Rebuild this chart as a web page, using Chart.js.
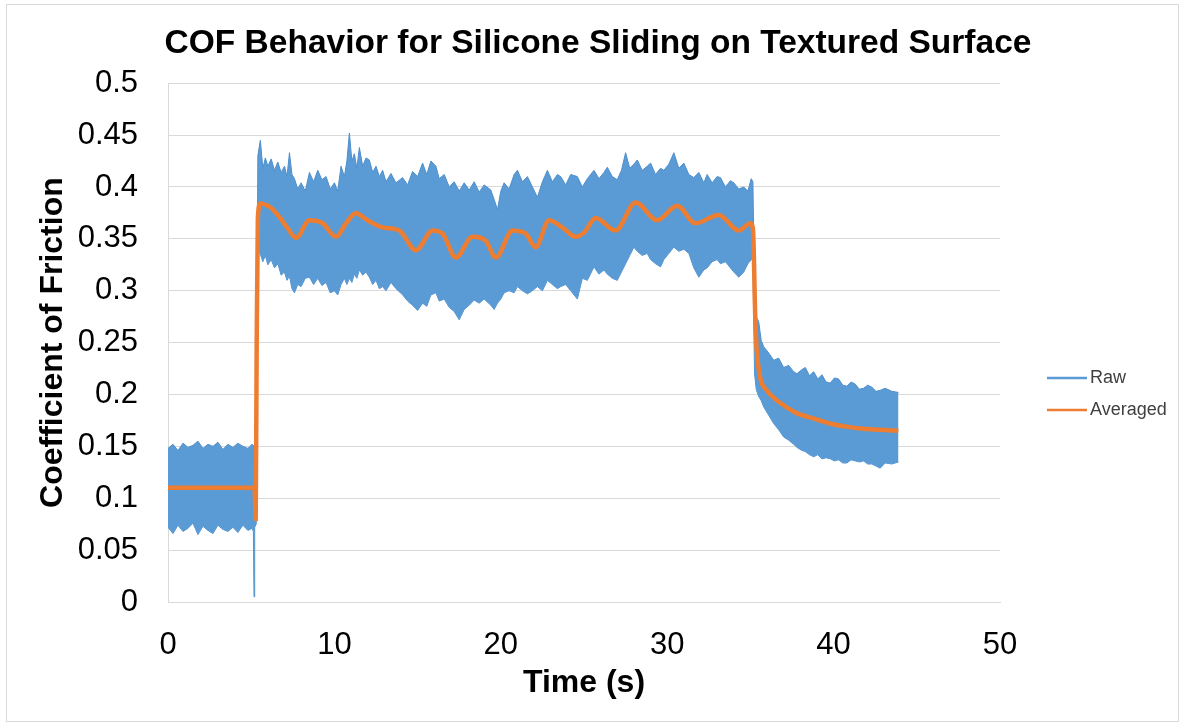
<!DOCTYPE html>
<html>
<head>
<meta charset="utf-8">
<title>COF Behavior for Silicone Sliding on Textured Surface</title>
<script src="https://cdn.jsdelivr.net/npm/chart.js@4.4.1/dist/chart.umd.min.js"></script>
<style>
    html, body { margin: 0; padding: 0; background: #ffffff; }
    #wrap { width: 1182px; height: 723px; }
</style>
</head>
<body>
<div id="wrap"><canvas id="cof-chart" width="1182" height="723"></canvas></div>
<script>
// raw signal, kept as its upper and lower envelope (time in s, COF)
var rawTime = [
    // before contact
    0, 0.3, 0.6, 0.9, 1.2, 1.5, 1.8, 2.1, 2.4, 2.7,
    3.0, 3.3, 3.6, 3.9, 4.2, 4.5, 4.8, 5.05, 5.13, 5.17,
    5.21, 5.3,
    // sliding on texture
    5.4, 5.55, 5.7, 5.85, 6.0, 6.2, 6.4, 6.6, 6.8, 7.0,
    7.15, 7.3, 7.45, 7.6, 7.8, 8.0, 8.25, 8.5, 8.75, 9.0,
    9.25, 9.5, 9.75, 10.0, 10.2, 10.4, 10.6, 10.75, 10.9, 11.05,
    11.2, 11.35, 11.5, 11.7, 11.9, 12.1, 12.3, 12.5, 12.7, 12.9,
    13.1, 13.4, 13.7, 14.1, 14.4, 14.7, 15.0, 15.3, 15.55, 15.8,
    16.1, 16.3, 16.6, 16.9, 17.2, 17.5, 17.8, 18.1, 18.4, 18.7,
    19.0, 19.4, 19.6, 19.8, 20.0, 20.2, 20.5, 20.8, 21.0, 21.3,
    21.6, 21.9, 22.2, 22.5, 22.8, 23.1, 23.4, 23.6, 23.9, 24.2,
    24.6, 24.9, 25.2, 25.6, 25.9, 26.2, 26.4, 26.7, 27.0, 27.25,
    27.5, 27.75, 28.0, 28.2, 28.5, 28.8, 29.0, 29.3, 29.6, 29.8,
    30.1, 30.4, 30.7, 31.0, 31.3, 31.6, 31.9, 32.2, 32.4, 32.7,
    33.0, 33.2, 33.5, 33.8, 34.0, 34.3, 34.6, 34.85, 35.05, 35.15,
    // after the texture
    35.25, 35.35, 35.5, 35.65, 35.8, 36.1, 36.4, 36.7, 37.0, 37.3,
    37.6, 37.8, 38.1, 38.3, 38.55, 38.8, 39.05, 39.3, 39.55, 39.8,
    40.05, 40.3, 40.55, 40.8, 41.05, 41.3, 41.55, 41.8, 42.05, 42.3,
    42.55, 42.8, 43.1, 43.5, 43.9
];
var rawHigh = [
    0.148, 0.152, 0.146, 0.153, 0.149, 0.151, 0.155, 0.148, 0.152, 0.150,
    0.154, 0.147, 0.152, 0.149, 0.153, 0.150, 0.148, 0.152, 0.151, 0.150,
    0.151, 0.155,

    0.430, 0.445, 0.418, 0.428, 0.420, 0.427, 0.416, 0.424, 0.414, 0.420,
    0.410, 0.433, 0.412, 0.408, 0.398, 0.404, 0.396, 0.414, 0.405, 0.416,
    0.407, 0.410, 0.398, 0.404, 0.396, 0.420, 0.410, 0.425, 0.452, 0.425,
    0.432, 0.418, 0.438, 0.420, 0.428, 0.426, 0.414, 0.420, 0.410, 0.416,
    0.405, 0.413, 0.404, 0.409, 0.402, 0.415, 0.410, 0.423, 0.412, 0.425,
    0.420, 0.408, 0.412, 0.400, 0.405, 0.396, 0.404, 0.397, 0.405, 0.395,
    0.402, 0.397, 0.388, 0.378, 0.396, 0.404, 0.398, 0.412, 0.416, 0.405,
    0.410, 0.400, 0.390, 0.405, 0.416, 0.405, 0.412, 0.410, 0.402, 0.412,
    0.410, 0.400, 0.408, 0.416, 0.408, 0.414, 0.419, 0.410, 0.407, 0.416,
    0.433, 0.418, 0.422, 0.426, 0.416, 0.420, 0.423, 0.412, 0.418, 0.416,
    0.422, 0.433, 0.418, 0.423, 0.412, 0.409, 0.414, 0.404, 0.412, 0.404,
    0.410, 0.409, 0.400, 0.406, 0.404, 0.398, 0.400, 0.396, 0.408, 0.405,

    0.300, 0.275, 0.270, 0.252, 0.246, 0.240, 0.233, 0.235, 0.226, 0.228,
    0.222, 0.220, 0.224, 0.226, 0.218, 0.222, 0.215, 0.219, 0.212, 0.211,
    0.216, 0.215, 0.209, 0.208, 0.212, 0.210, 0.205, 0.206, 0.209, 0.207,
    0.203, 0.204, 0.206, 0.203, 0.202
];
var rawLow = [
    0.072, 0.066, 0.074, 0.068, 0.071, 0.076, 0.065, 0.073, 0.069, 0.066,
    0.074, 0.070, 0.068, 0.072, 0.067, 0.074, 0.069, 0.071, 0.068, 0.005,
    0.072, 0.075,

    0.340, 0.335, 0.328, 0.334, 0.325, 0.330, 0.322, 0.326, 0.315, 0.318,
    0.310, 0.314, 0.302, 0.298, 0.306, 0.304, 0.312, 0.313, 0.306, 0.312,
    0.305, 0.308, 0.298, 0.300, 0.296, 0.306, 0.312, 0.306, 0.312, 0.308,
    0.316, 0.312, 0.320, 0.315, 0.318, 0.313, 0.306, 0.310, 0.302, 0.304,
    0.300, 0.308, 0.302, 0.296, 0.290, 0.286, 0.281, 0.288, 0.285, 0.296,
    0.298, 0.290, 0.292, 0.284, 0.280, 0.272, 0.282, 0.286, 0.291, 0.288,
    0.292, 0.286, 0.282, 0.288, 0.292, 0.298, 0.300, 0.298, 0.304, 0.300,
    0.297, 0.300, 0.304, 0.300, 0.310, 0.306, 0.302, 0.304, 0.306, 0.300,
    0.292, 0.312, 0.310, 0.323, 0.316, 0.320, 0.316, 0.312, 0.310, 0.318,
    0.326, 0.334, 0.342, 0.338, 0.334, 0.336, 0.330, 0.326, 0.323, 0.330,
    0.336, 0.342, 0.338, 0.340, 0.336, 0.322, 0.313, 0.320, 0.322, 0.328,
    0.330, 0.326, 0.328, 0.322, 0.318, 0.313, 0.318, 0.326, 0.330, 0.330,

    0.220, 0.205, 0.198, 0.194, 0.188, 0.180, 0.172, 0.166, 0.159, 0.156,
    0.152, 0.149, 0.146, 0.145, 0.142, 0.140, 0.142, 0.138, 0.139, 0.138,
    0.136, 0.137, 0.134, 0.134, 0.137, 0.136, 0.135, 0.136, 0.133, 0.133,
    0.131, 0.129, 0.134, 0.133, 0.135
];

// moving average of the raw signal
var avgTime = [
    0, 5.2, 5.27, 5.33, 5.4, 5.55, 6.1, 6.7, 7.2, 7.7, 8.5, 9.3, 10.1, 10.7, 11.3, 11.8, 12.2,
    12.9, 13.9, 14.9, 15.9, 16.5, 17.3, 18.3, 19.1, 19.7, 20.7, 21.5, 22.1, 22.9, 23.7, 24.5,
    25.0, 25.7, 26.9, 28.1, 29.4, 30.6, 31.7, 33.1, 34.3, 35.0, 35.15, 35.3, 35.38, 35.58, 35.98,
    36.4, 36.78, 37.78, 38.78, 39.78, 40.78, 41.79, 42.79, 43.89
];
var avgCof = [
    0.110, 0.110, 0.080, 0.250, 0.370, 0.384, 0.381, 0.371, 0.360, 0.351, 0.368, 0.365, 0.352, 0.365, 0.375, 0.370, 0.366,
    0.361, 0.358, 0.339, 0.358, 0.355, 0.332, 0.352, 0.348, 0.332, 0.358, 0.355, 0.342, 0.368, 0.361, 0.352,
    0.356, 0.370, 0.358, 0.385, 0.368, 0.382, 0.365, 0.373, 0.358, 0.365, 0.360, 0.270, 0.243, 0.217, 0.204,
    0.197, 0.192, 0.182, 0.177, 0.172, 0.169, 0.167, 0.166, 0.165
];

var xTicks = [0, 10, 20, 30, 40, 50];
var yTicks = [0, 0.05, 0.1, 0.15, 0.2, 0.25, 0.3, 0.35, 0.4, 0.45, 0.5];

function toPoints(xs, ys) {
    return xs.map((x, i) => ({ x: x, y: ys[i] }));
}

const BLUE = '#5B9BD5';
const BLUE_EDGE = '#4F8FCB';
const ORANGE = '#ED7D31';
const GRID = '#d9d9d9';
const FONT = '"Liberation Sans", Arial, sans-serif';

// white background and a light frame round the whole chart
const frame = {
    id: 'frame',
    beforeDraw(chart) {
        const ctx = chart.ctx;
        ctx.save();
        ctx.fillStyle = '#ffffff';
        ctx.fillRect(0, 0, chart.width, chart.height);
        ctx.strokeStyle = GRID;
        ctx.lineWidth = 1;
        ctx.strokeRect(6.5, 4.5, chart.width - 10, chart.height - 6);
        ctx.restore();
    }
};

// legend to the right of the plot, one short line per series
const sideLegend = {
    id: 'sideLegend',
    afterDraw(chart) {
        const ctx = chart.ctx;
        const items = chart.data.datasets.filter(d => !d.hideInLegend);
        let y = 378;
        ctx.save();
        ctx.font = '18px ' + FONT;
        ctx.textBaseline = 'middle';
        ctx.fillStyle = '#404040';
        items.forEach(d => {
            ctx.strokeStyle = d.legendColor;
            ctx.lineWidth = 2.5;
            ctx.beginPath();
            ctx.moveTo(1047, y);
            ctx.lineTo(1087, y);
            ctx.stroke();
            ctx.fillText(d.label, 1090, y);
            y += 32;
        });
        ctx.restore();
    }
};

new Chart(document.getElementById('cof-chart'), {
    type: 'line',
    data: {
        datasets: [
            {
                label: 'Raw',
                data: toPoints(rawTime, rawHigh),
                borderColor: BLUE_EDGE,
                backgroundColor: BLUE,
                borderWidth: 1,
                pointRadius: 0,
                fill: '+1',
                order: 1,
                legendColor: BLUE
            },
            {
                label: 'Raw (lower)',
                data: toPoints(rawTime, rawLow),
                borderColor: BLUE_EDGE,
                borderWidth: 1,
                pointRadius: 0,
                fill: false,
                order: 2,
                hideInLegend: true
            },
            {
                label: 'Averaged',
                data: toPoints(avgTime, avgCof),
                borderColor: ORANGE,
                borderWidth: 4.5,
                pointRadius: 0,
                fill: false,
                order: 0,
                cubicInterpolationMode: 'monotone',
                legendColor: ORANGE
            }
        ]
    },
    options: {
        responsive: false,
        animation: false,
        layout: {
            padding: { top: 0, left: 34, right: 20, bottom: 21 }
        },
        plugins: {
            legend: { display: false },
            tooltip: { enabled: false },
            title: {
                display: true,
                text: 'COF Behavior for Silicone Sliding on Textured Surface',
                color: '#000000',
                font: { family: FONT, size: 33.5, weight: 'bold' },
                padding: { top: 24, bottom: 19 }
            }
        },
        scales: {
            x: {
                type: 'linear',
                min: 0,
                max: 50,
                afterBuildTicks: axis => { axis.ticks = xTicks.map(v => ({ value: v })); },
                afterFit: axis => { axis.height = 100; },
                grid: { display: false, drawTicks: false },
                border: { display: true, color: GRID, width: 1 },
                ticks: {
                    color: '#000000',
                    padding: 25,
                    maxRotation: 0,
                    font: { family: FONT, size: 31 }
                },
                title: {
                    display: true,
                    text: 'Time (s)',
                    color: '#000000',
                    font: { family: FONT, size: 32, weight: 'bold' },
                    padding: { top: 0, bottom: 0 }
                }
            },
            y: {
                min: 0,
                max: 0.5,
                afterBuildTicks: axis => { axis.ticks = yTicks.map(v => ({ value: v })); },
                afterFit: axis => { axis.width = 134; },
                grid: { color: GRID, lineWidth: 1, drawTicks: false },
                border: { display: true, color: GRID, width: 1 },
                ticks: {
                    color: '#000000',
                    padding: 30,
                    font: { family: FONT, size: 31 },
                    callback: v => String(parseFloat(v.toFixed(2)))
                },
                title: {
                    display: true,
                    text: 'Coefficient of Friction',
                    color: '#000000',
                    font: { family: FONT, size: 32, weight: 'bold' },
                    padding: { top: 0, bottom: 5 }
                }
            },
            // empty axis that keeps room for the legend on the right
            yRight: {
                position: 'right',
                min: 0,
                max: 0.5,
                afterFit: axis => { axis.width = 162; },
                grid: { display: false, drawTicks: false },
                border: { display: false },
                ticks: { display: false }
            }
        }
    },
    plugins: [frame, sideLegend]
});
</script>
</body>
</html>
